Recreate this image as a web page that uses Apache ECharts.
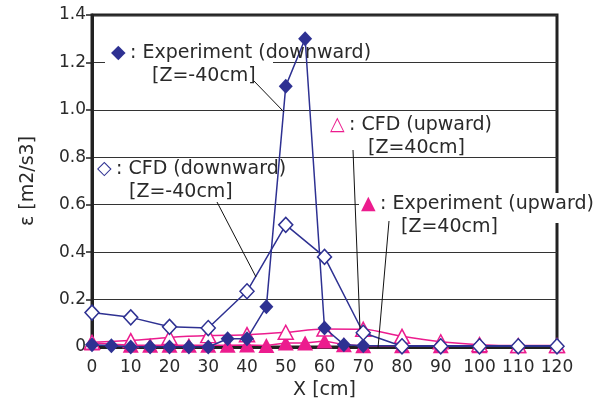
<!DOCTYPE html>
<html>
<head>
<meta charset="utf-8">
<script src="https://cdn.jsdelivr.net/npm/echarts@6/dist/echarts.min.js"></script>
<style>html,body{margin:0;padding:0;background:#fff}#c{width:602px;height:405px}</style>
</head>
<body>
<div id="c"></div>
<script>
// X positions [cm]
const xCFD = [0, 10, 20, 30, 40, 50, 60, 70, 80, 90, 100, 110, 120];
const xExpDown = [0, 5, 10, 15, 20, 25, 30, 35, 40, 45, 50, 55, 60, 65, 70, 80, 90, 100, 110, 120];
const xExpUp = [0, 10, 15, 20, 25, 30, 35, 40, 45, 50, 55, 60, 65, 70, 80, 90, 100, 110, 120];
// epsilon [m2/s3]
const expDown = [0.01, 0.005, 0, 0, 0, 0, 0, 0.035, 0.035, 0.17, 1.10, 1.30, 0.08, 0.01, 0.005, 0.005, 0.005, 0.005, 0.005, 0.005];
const cfdDown = [0.145, 0.125, 0.085, 0.08, 0.235, 0.515, 0.38, 0.06, 0.003, 0.003, 0.003, 0.003, 0.003];
const cfdUp = [0.02, 0.027, 0.04, 0.048, 0.052, 0.062, 0.076, 0.075, 0.045, 0.022, 0.01, 0.006, 0.006];
const expUp = [0.017, 0.007, 0.007, 0.007, 0.007, 0.007, 0.007, 0.008, 0.006, 0.017, 0.017, 0.025, 0.01, 0.005, 0.005, 0.005, 0.005, 0.005, 0.005];
const yTicks = [0, 0.2, 0.4, 0.6, 0.8, 1.0, 1.2, 1.4];

const NAVY = '#2E3192';
const PINK = '#EC1C8E';
const TXT = '#2a2a2a';
const FONT = 'DejaVu Sans';

const pairs = (xs, ys) => xs.map((x, i) => [x, ys[i]]);

const chart = echarts.init(document.getElementById('c'), null, {renderer: 'canvas'});

function label(x, y, sym, symColor, line1, line2, l2x) {
  return [
    {type: 'text', z: 101, left: x, top: y - 11, style: {text: sym, fill: symColor, font: '19px "DejaVu Sans"'}},
    {type: 'text', z: 101, left: x + 19, top: y - 11, style: {text: ': ' + line1, fill: TXT, font: '19px "DejaVu Sans"'}},
    {type: 'text', z: 101, left: l2x, top: y + 12, style: {text: line2, fill: TXT, font: '19px "DejaVu Sans"'}}
  ];
}

const graphics = [
  {type: 'rect', z: 100, shape: {x: 105, y: 40, width: 168, height: 27}, style: {fill: '#fff'}},
  {type: 'rect', z: 100, shape: {x: 359, y: 193, width: 235, height: 30}, style: {fill: '#fff'}},
  {type: 'line', z: 100, shape: {x1: 253, y1: 80, x2: 284, y2: 112}, style: {stroke: '#111', lineWidth: 1}},
  {type: 'line', z: 100, shape: {x1: 217, y1: 202, x2: 256, y2: 277}, style: {stroke: '#111', lineWidth: 1}},
  {type: 'line', z: 100, shape: {x1: 353, y1: 150, x2: 360, y2: 329}, style: {stroke: '#111', lineWidth: 1}},
  {type: 'line', z: 100, shape: {x1: 389, y1: 221, x2: 378, y2: 348}, style: {stroke: '#111', lineWidth: 1}}
]
.concat(label(111, 55, '\u25C6', NAVY, 'Experiment (downward)', '[Z=-40cm]', 152))
.concat(label(97, 171, '\u25C7', NAVY, 'CFD (downward)', '[Z=-40cm]', 129))
.concat(label(330, 127, '\u25B3', PINK, 'CFD (upward)', '[Z=40cm]', 368))
.concat(label(361, 206, '\u25B2', PINK, 'Experiment (upward)', '[Z=40cm]', 401));

const option = {
  animation: false,
  backgroundColor: '#fff',
  textStyle: {fontFamily: FONT},
  grid: {left: 92, right: 45, top: 15, bottom: 56, show: true, borderColor: '#222', borderWidth: 3},
  xAxis: {
    type: 'value', min: 0, max: 120, interval: 10,
    name: 'X [cm]', nameLocation: 'middle', nameGap: 34,
    nameTextStyle: {fontSize: 19, color: TXT, fontFamily: FONT},
    axisLine: {show: true, lineStyle: {color: '#222', width: 3}},
    axisTick: {show: false},
    axisLabel: {fontSize: 17, color: TXT, margin: 12, fontFamily: FONT},
    splitLine: {show: false}
  },
  yAxis: {
    type: 'value', min: 0, max: 1.4, interval: 0.2,
    name: '\u03B5 [m2/s3]', nameLocation: 'middle', nameGap: 54, nameRotate: 90,
    nameTextStyle: {fontSize: 19, color: TXT, fontFamily: FONT},
    axisLine: {show: true, lineStyle: {color: '#222', width: 3}},
    axisTick: {show: true, length: 6, lineStyle: {color: '#222', width: 1.5}},
    axisLabel: {fontSize: 17, color: TXT, margin: 6, fontFamily: FONT,
      formatter: v => { const t = yTicks.find(k => Math.abs(k - v) < 1e-9); return t === 0 ? '0' : (t !== undefined ? t.toFixed(1) : ''); }},
    splitLine: {show: true, lineStyle: {color: '#333', width: 1}}
  },
  series: [
    {name: 'Experiment (upward)', type: 'line', data: pairs(xExpUp, expUp), z: 2,
      symbol: 'triangle', symbolSize: [16, 15], lineStyle: {color: PINK, width: 1.5},
      itemStyle: {color: PINK, borderColor: PINK, borderWidth: 0}},
    {name: 'CFD (upward)', type: 'line', data: pairs(xCFD, cfdUp), z: 3, smooth: 0.3,
      symbol: 'triangle', symbolSize: [15, 14], lineStyle: {color: PINK, width: 1.5},
      itemStyle: {color: '#fff', borderColor: PINK, borderWidth: 1.5}},
    {name: 'Experiment (downward)', type: 'line', data: pairs(xExpDown, expDown), z: 4,
      symbol: 'diamond', symbolSize: [14, 15], lineStyle: {color: NAVY, width: 1.5},
      itemStyle: {color: NAVY, borderColor: NAVY, borderWidth: 0}},
    {name: 'CFD (downward)', type: 'line', data: pairs(xCFD, cfdDown), z: 5,
      symbol: 'diamond', symbolSize: [14, 15], lineStyle: {color: NAVY, width: 1.5},
      itemStyle: {color: '#fff', borderColor: NAVY, borderWidth: 1.5}}
  ],
  graphic: {elements: graphics}
};
chart.setOption(option);
</script>
</body>
</html>
